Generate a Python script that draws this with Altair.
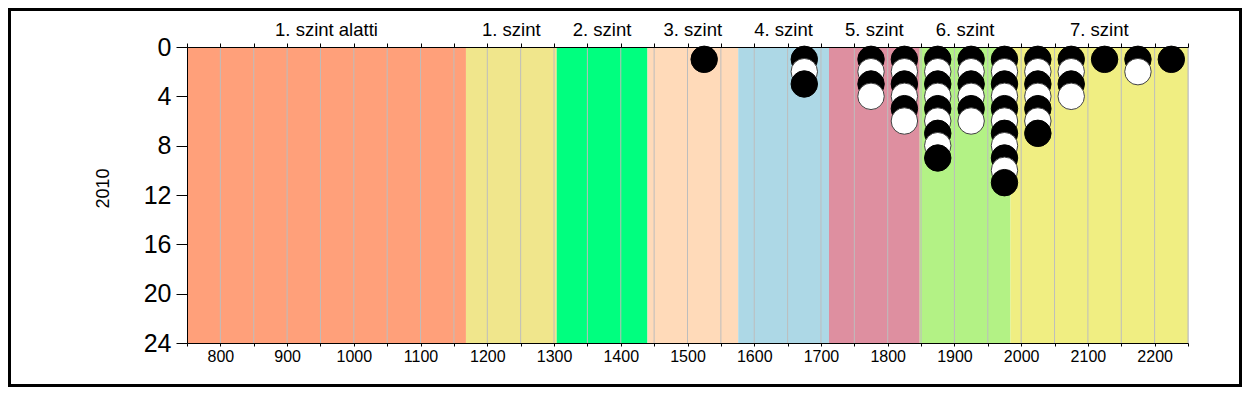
import altair as alt
import pandas as pd

# Level bands
level_names = ["1. szint alatti", "1. szint", "2. szint", "3. szint",
               "4. szint", "5. szint", "6. szint", "7. szint"]
level_starts = [750, 1168, 1304, 1440, 1576, 1712, 1848, 1984]
level_ends = [1168, 1304, 1440, 1576, 1712, 1848, 1984, 2250]
level_colors = ["#FFA07A", "#F0E68C", "#00FF7F", "#FFDAB9",
                "#ADD8E6", "#DE8FA0", "#B3F285", "#F0EE82"]

# Dot columns (x position) and stacked dot colours (B = black, W = white)
dot_cols = [1525, 1675, 1775, 1825, 1875, 1925, 1975, 2025, 2075, 2125, 2175, 2225]
dot_patterns = ["B", "BWB", "BWBW", "BWBWBW", "BWBWBWBWB", "BWBWBW",
                "BWBWBWBWBWB", "BWBWBWB", "BWBW", "B", "BW", "B"]

x_ticks = list(range(750, 2251, 50))
grid_vals = list(range(800, 2251, 50))
y_ticks = [0, 4, 8, 12, 16, 20, 24]

FONT = "Liberation Sans"
W, H = 1001, 296

bands = pd.DataFrame({
    "name": level_names,
    "start": level_starts,
    "end": level_ends,
    "color": level_colors,
})
bands["mid"] = (bands["start"] + bands["end"]) / 2

rows = []
order = 0
for cx, pat in zip(dot_cols, dot_patterns):
    for i, c in enumerate(pat):
        rows.append({
            "x": cx,
            "y": i + 1,
            "fill": "#000000" if c == "B" else "#FFFFFF",
            "stroke": "#000000" if c == "B" else "#404040",
            "o": order,
        })
        order += 1
dots = pd.DataFrame(rows)
grid = pd.DataFrame({"g": grid_vals})

xscale = alt.Scale(domain=[750, 2250], nice=False, zero=False)
yscale = alt.Scale(domain=[0, 24], reverse=True, nice=False, zero=False)

x_bottom = alt.Axis(
    values=x_ticks, labelExpr="datum.value % 100 == 0 ? datum.value : ''",
    grid=False, title=None, domainColor="black", tickColor="black",
    tickSize=3, labelFontSize=16, labelFont=FONT, labelColor="black",
    labelPadding=2, labelFlush=False, labelOverlap=False, zindex=2,
)
x_top = alt.Axis(
    orient="top", values=x_ticks, labels=False, grid=False, title=None,
    domainColor="black", tickColor="black", tickSize=4, zindex=2,
)
y_axis = alt.Axis(
    values=y_ticks, grid=False, title="2010", titleFont=FONT, titleFontSize=18,
    titleFontWeight="normal", titleColor="black", titleX=-79, titleY=188 - 47,
    titleAlign="center", titleBaseline="alphabetic", titleAngle=270,
    labelFont=FONT, labelFontSize=25, labelColor="black", labelPadding=5,
    tickSize=11, tickColor="black", domainColor="black", labelFlush=False,
    labelOverlap=False, zindex=2,
)

band_layer = alt.Chart(bands).mark_rect(stroke=None).encode(
    x=alt.X("start:Q", scale=xscale, axis=x_bottom),
    x2="end:Q",
    y=alt.value(0),
    y2=alt.value(H),
    color=alt.Color("color:N", scale=None),
)

grid_layer = alt.Chart(grid).mark_rule(color="#BDBDBD", strokeWidth=1).encode(
    x=alt.X("g:Q", scale=xscale, axis=x_top),
    y=alt.value(0),
    y2=alt.value(H),
)

dot_layer = alt.Chart(dots).mark_point(
    filled=True, shape="circle", size=700, strokeWidth=1, opacity=1
).encode(
    x=alt.X("x:Q", scale=xscale, axis=None),
    y=alt.Y("y:Q", scale=yscale, axis=y_axis),
    fill=alt.Fill("fill:N", scale=None),
    stroke=alt.Stroke("stroke:N", scale=None),
    order=alt.Order("o:Q"),
)

text_layer = alt.Chart(bands).mark_text(
    font=FONT, fontSize=18.5, color="black", baseline="alphabetic", align="center"
).encode(
    x=alt.X("mid:Q", scale=xscale, axis=None),
    y=alt.value(-11),
    text="name:N",
)

frame = alt.Chart(bands).mark_rect(
    fill=None, stroke="black", strokeWidth=3
).encode(
    x=alt.value(-177.5), x2=alt.value(W + 54 - 1.5),
    y=alt.value(-37.5), y2=alt.value(H + 44 - 1.5),
)

chart = alt.layer(band_layer, grid_layer, dot_layer, text_layer, frame).resolve_axis(
    x="independent"
).properties(
    width=W, height=H,
    autosize=alt.AutoSizeParams(type="none"),
    padding={"left": 179, "top": 39, "right": 54, "bottom": 44},
).configure_view(stroke=None).configure(background="white")

chart.save("out.html", embed_options={"renderer": "svg", "actions": False})
